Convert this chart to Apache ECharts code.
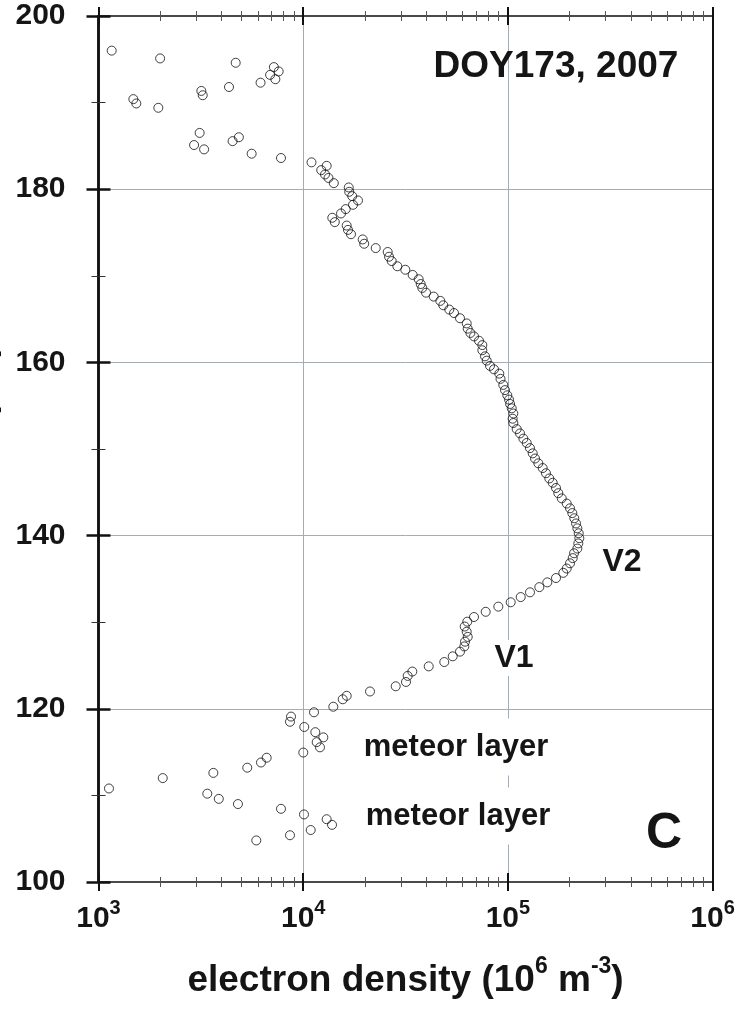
<!DOCTYPE html>
<html>
<head>
<meta charset="utf-8">
<script src="https://cdn.jsdelivr.net/npm/echarts@6/dist/echarts.min.js"></script>
<style>
html, body { margin: 0; padding: 0; background: #fff; }
#chart { width: 740px; height: 1017px; }
</style>
</head>
<body>
<div id="chart"></div>
<script>
// electron density (1e6 m^-3), altitude (km)
const topScatter = [
  [1160, 196.0], [2000, 195.1], [4680, 194.6], [7190, 194.1], [7590, 193.6], [6890, 193.2],
  [7310, 192.7], [6190, 192.3], [4340, 191.8], [3180, 191.35], [3230, 190.85], [1480, 190.4],
  [1530, 189.9], [1960, 189.4], [3120, 186.5], [4850, 186.0], [4520, 185.55], [2930, 185.1],
  [3280, 184.6], [5600, 184.1], [7790, 183.6]
]
const profile = [
  [10980, 183.1], [13020, 182.7], [12250, 182.2], [12780, 181.7], [13290, 181.3], [14110, 180.7],
  [16690, 180.2], [16780, 179.7], [17350, 179.2], [18520, 178.7], [17510, 178.2], [16130, 177.7],
  [15300, 177.2], [13870, 176.7], [14270, 176.2], [16310, 175.8], [16550, 175.3], [17120, 174.8],
  [19530, 174.2], [19860, 173.7], [22610, 173.2], [25870, 172.75], [26260, 172.2], [27060, 171.7],
  [28830, 171.1], [31540, 170.7], [34260, 170.1], [36660, 169.6], [37500, 169.05], [38180, 168.6],
  [39810, 168.05], [43410, 167.6], [46760, 167.1], [48340, 166.6], [51720, 166.1], [54540, 165.7],
  [58340, 165.1], [62920, 164.5], [63630, 163.9], [65590, 163.4], [68300, 163.0], [72240, 162.5],
  [74990, 162.0], [75000, 161.4], [77300, 160.7], [78790, 160.2], [81770, 159.6], [85520, 159.2],
  [90780, 158.7], [92030, 158.1], [94960, 157.4], [96780, 156.8], [99330, 156.2], [101300, 155.7],
  [102500, 155.2], [104400, 154.7], [106300, 154.1], [105500, 153.5], [106300, 153.0], [110400, 152.3],
  [114600, 151.8], [119000, 151.2], [123600, 150.7], [128200, 150.1], [132200, 149.5], [135700, 148.9],
  [140800, 148.35], [147900, 147.8], [153500, 147.2], [159300, 146.6], [165500, 146.1], [171800, 145.5],
  [176300, 144.9], [183200, 144.3], [193800, 143.7], [201100, 143.15], [206400, 142.6], [211100, 142.0],
  [215200, 141.4], [218400, 140.84], [221800, 140.27], [223300, 139.7], [220800, 139.1], [218400, 138.5],
  [210400, 137.96], [207300, 137.4], [201100, 136.8], [193800, 136.2], [186500, 135.7], [171800, 135.1],
  [155800, 134.6], [142400, 134.05], [128200, 133.45], [115500, 132.9], [103200, 132.3], [89780, 131.8],
  [77900, 131.2], [68300, 130.6], [63330, 130.06], [61520, 129.5], [62920, 128.9], [63630, 128.3],
  [61720, 127.75], [61240, 127.2], [58340, 126.6], [53760, 126.06], [48890, 125.4], [41040, 124.9],
  [34120, 124.3], [32390, 123.8], [31780, 123.1], [28310, 122.6], [21200, 122.0], [16310, 121.5],
  [15600, 121.1], [14030, 120.24], [11290, 119.6]
]
const meteorPoints = [
  [8720, 119.1], [8620, 118.5], [10120, 117.9], [11460, 117.3], [12540, 116.7], [11640, 116.15],
  [12080, 115.55], [10010, 114.95], [6630, 114.35], [6220, 113.8], [5330, 113.2], [3640, 112.6],
  [2060, 112.0], [1125, 110.8], [3400, 110.2], [3870, 109.6], [4800, 109.0], [7790, 108.45],
  [10090, 107.8], [13020, 107.25], [13830, 106.6], [10880, 106.0], [8620, 105.4], [5900, 104.8]
]

const FONT = "'Liberation Sans', Arial, sans-serif"
const INK = '#151515'
const GRIDCOL = '#a4abb3'

const xMin = 1e3, xMax = 1e6
const yMin = 100, yMax = 200

const chart = echarts.init(document.getElementById('chart'))

function xAx(grid, pos, inside, main) {
    return {
        type: 'log', logBase: 10, min: xMin, max: xMax, gridIndex: grid, position: pos,
        splitNumber: 3,
        axisLine: {show: true, lineStyle: {color: '#4a4a4a', width: 2}},
        axisTick: {show: true, inside: inside, length: 9, lineStyle: {color: '#111', width: 2}},
        minorTick: {show: true, splitNumber: 9, length: 5, lineStyle: {color: '#555', width: 1}},
        splitLine: {show: main, lineStyle: {color: GRIDCOL, width: 1}},
        axisLabel: {
            show: main && pos === 'bottom',
            margin: 16,
            formatter: v => '{b|10}{s|' + Math.round(Math.log10(v)) + '}',
            rich: {
                b: {fontFamily: FONT, fontWeight: 'bold', fontSize: 30, color: INK, lineHeight: 36, verticalAlign: 'bottom'},
                s: {fontFamily: FONT, fontWeight: 'bold', fontSize: 20, color: INK, lineHeight: 20, verticalAlign: 'top'}
            }
        },
        name: main && pos === 'bottom' ? '{t|electron density (10}{s|6}{t| m}{s|-3}{t|)}' : '',
        nameLocation: 'middle',
        nameGap: 73,
        nameTextStyle: {
            rich: {
                t: {fontFamily: FONT, fontWeight: 'bold', fontSize: 37, color: INK, lineHeight: 44, verticalAlign: 'bottom'},
                s: {fontFamily: FONT, fontWeight: 'bold', fontSize: 23, color: INK, lineHeight: 23, verticalAlign: 'top'}
            }
        }
    }
}

function yAx(grid, pos, inside, main) {
    const left = pos === 'left'
    return {
        type: 'value', min: yMin, max: yMax, interval: 20, gridIndex: grid, position: pos,
        axisLine: {show: true, lineStyle: {color: '#111', width: left ? 2.5 : 2}},
        axisTick: {show: left, inside: inside, length: 12, lineStyle: {color: '#111', width: 2.5}},
        minorTick: {show: left, splitNumber: 2, length: 7, lineStyle: {color: '#333', width: 1}},
        splitLine: {show: main, lineStyle: {color: GRIDCOL, width: 1}},
        axisLabel: {
            show: main && left, margin: 33,
            fontFamily: FONT, fontWeight: 'bold', fontSize: 30, color: INK
        },
        name: main && left ? 'altitude (km)' : '',
        nameLocation: 'middle',
        nameRotate: 90,
        nameGap: 97,
        nameTextStyle: {fontFamily: FONT, fontWeight: 'bold', fontSize: 35, color: INK}
    }
}

const gridBox = {left: 98.5, right: 27.4, top: 16, bottom: 135, containLabel: false, outerBoundsMode: 'none'}

const sym = {
    type: 'scatter', xAxisIndex: 0, yAxisIndex: 0,
    symbol: 'circle', symbolSize: 9,
    itemStyle: {color: 'rgba(0,0,0,0)', borderColor: '#111', borderWidth: 1},
    emphasis: {disabled: true},
    z: 5
}

const labelStyle = (size) => ({fontFamily: FONT, fontWeight: 'bold', fontSize: size, fill: INK, align: 'center', verticalAlign: 'middle'})

const option = {
    animation: false,
    backgroundColor: '#fff',
    grid: [
        Object.assign({}, gridBox),
        Object.assign({}, gridBox)
    ],
    xAxis: [
        xAx(0, 'bottom', false, true),
        xAx(0, 'top', false, false),
        xAx(1, 'bottom', true, false),
        xAx(1, 'top', true, false)
    ],
    yAxis: [
        yAx(0, 'left', false, true),
        yAx(0, 'right', false, false),
        yAx(1, 'left', true, false),
        yAx(1, 'right', true, false)
    ],
    series: [
        Object.assign({name: 'upper', data: topScatter}, sym),
        Object.assign({name: 'profile', data: profile}, sym),
        Object.assign({name: 'meteor', data: meteorPoints}, sym)
    ],
    graphic: [
        {type: 'text', x: 556, y: 67, z: 10, style: Object.assign(labelStyle(37), {text: 'DOY173, 2007'})},
        {type: 'text', x: 622, y: 562, z: 10, style: Object.assign(labelStyle(32), {text: 'V2'})},
        {type: 'text', x: 514, y: 658, z: 10, style: Object.assign(labelStyle(32), {text: 'V1', backgroundColor: '#fff', padding: [2, 2]})},
        {type: 'text', x: 456, y: 747, z: 10, style: Object.assign(labelStyle(31), {text: 'meteor layer', backgroundColor: '#fff', padding: [13, 4]})},
        {type: 'text', x: 458, y: 816, z: 10, style: Object.assign(labelStyle(31), {text: 'meteor layer', backgroundColor: '#fff', padding: [13, 4]})},
        {type: 'text', x: 664, y: 834, z: 10, style: Object.assign(labelStyle(50), {text: 'C'})}
    ]
}

chart.setOption(option)
</script>
</body>
</html>
